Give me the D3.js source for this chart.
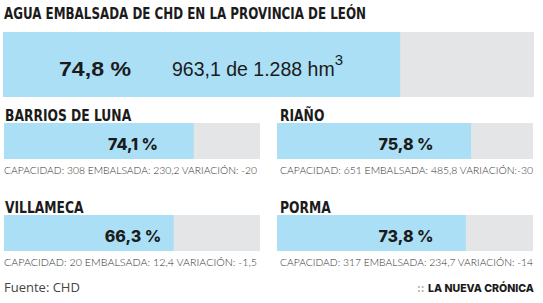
<!DOCTYPE html>
<html>
<head>
<meta charset="utf-8">
<script src="https://cdn.jsdelivr.net/npm/d3@7"></script>
<style>
  body { margin: 0; background: #fff; }
  svg { display: block; }
</style>
</head>
<body>
<svg id="chart" width="543" height="303"></svg>
<script>
// Datos (hm3)
const totalPercent = 74.8;
const totalStored = 963.1;
const totalCapacity = 1288;

const reservoirs = ['BARRIOS DE LUNA', 'RIAÑO', 'VILLAMECA', 'PORMA'];
const percents = [74.1, 75.8, 66.3, 73.8];
const capacities = [308, 651, 20, 317];
const storedValues = [230.2, 485.8, 12.4, 234.7];
const changes = [-20, -30, -1.5, -14];

const BLUE = '#abdff6';
const GREY = '#e4e5e7';
const INK = '#1b1b1b';
const condensed = "'Liberation Sans Narrow', 'DejaVu Sans Condensed', 'Liberation Sans', sans-serif";

// Spanish number format: 963,1 / 1.288
const es = d3.formatLocale({ decimal: ',', thousands: '.', grouping: [3], currency: ['', ' €'], minus: '-' });
const num = es.format(',');
const pct = d => es.format('.1f')(d) + ' %';

const svg = d3.select('#chart');

// Title
svg.append('text')
  .attr('x', 4)
  .attr('y', 19)
  .attr('textLength', 362)
  .attr('lengthAdjust', 'spacingAndGlyphs')
  .style('font-family', condensed)
  .style('font-weight', 700)
  .style('font-size', '16.5px')
  .style('fill', INK)
  .text('AGUA EMBALSADA DE CHD EN LA PROVINCIA DE LEÓN');

// Total bar
const xTotal = d3.scaleLinear().domain([0, 100]).range([3, 534]);
const gTotal = svg.append('g').attr('transform', 'translate(0, 32)');

gTotal.append('rect')
  .attr('x', xTotal(0))
  .attr('width', xTotal(100) - xTotal(0))
  .attr('height', 65)
  .style('fill', GREY);

gTotal.append('rect')
  .attr('x', xTotal(0))
  .attr('width', xTotal(totalPercent) - xTotal(0))
  .attr('height', 65)
  .style('fill', BLUE);

gTotal.append('text')
  .attr('x', 59)
  .attr('y', 44)
  .attr('textLength', 72)
  .attr('lengthAdjust', 'spacingAndGlyphs')
  .style('font-family', "'Liberation Sans', Arial, sans-serif")
  .style('font-weight', 700)
  .style('font-size', '21px')
  .style('fill', INK)
  .text(pct(totalPercent));

const totText = gTotal.append('text')
  .attr('x', 172)
  .attr('y', 44)
  .style('font-family', "'Liberation Sans', Arial, sans-serif")
  .style('font-size', '19.5px')
  .style('fill', INK);
totText.append('tspan').text(es.format('.1f')(totalStored) + ' de ' + num(totalCapacity) + ' hm');
totText.append('tspan')
  .attr('dy', -11)
  .style('font-size', '15px')
  .text('3');

// Reservoir bars (2 x 2)
const colX = [4, 277];
const rowY = [123, 215];
const barW = 256;
const barH = 36;

const x = d3.scaleLinear().domain([0, 100]).range([0, barW]);

const cells = svg.selectAll('g.reservoir')
  .data(reservoirs)
  .join('g')
  .attr('class', 'reservoir')
  .attr('transform', (d, i) => `translate(${colX[i % 2]}, ${rowY[Math.floor(i / 2)]})`);

// Condensed headings
cells.append('text')
  .attr('transform', (d, i) => `translate(${i % 2 ? 3 : 1}, -2) scale(0.83, 1)`)
  .style('font-family', condensed)
  .style('font-weight', 700)
  .style('font-size', '16.5px')
  .style('fill', INK)
  .text(d => d);

cells.append('rect')
  .attr('width', x(100))
  .attr('height', barH)
  .style('fill', GREY);

cells.append('rect')
  .attr('width', (d, i) => x(percents[i]))
  .attr('height', barH)
  .style('fill', BLUE);

cells.append('text')
  .attr('x', x(50) + 1)
  .attr('y', 27)
  .attr('text-anchor', 'middle')
  .style('font-family', "Inter, 'Noto Sans', sans-serif")
  .style('font-weight', 800)
  .style('font-size', '16px')
  .style('fill', INK)
  .text((d, i) => pct(percents[i]));

cells.append('text')
  .attr('x', (d, i) => (i % 2 ? 3 : 0))
  .attr('y', 51)
  .attr('textLength', 253)
  .attr('lengthAdjust', 'spacingAndGlyphs')
  .style('font-family', "Lato, 'Open Sans', sans-serif")
  .style('font-weight', 300)
  .style('font-size', '9px')
  .style('fill', '#333')
  .text((d, i) => `CAPACIDAD: ${num(capacities[i])} EMBALSADA: ${num(storedValues[i])} VARIACIÓN:${i === 1 ? '' : ' '}${num(changes[i])}`);

// Source and brand
svg.append('text')
  .attr('x', 4)
  .attr('y', 292)
  .style('font-family', "'Open Sans', 'Noto Sans', sans-serif")
  .style('font-size', '13px')
  .style('fill', '#444')
  .text('Fuente: CHD');

svg.append('text')
  .attr('x', 417)
  .attr('y', 292)
  .style('font-family', "Inter, 'Noto Sans', sans-serif")
  .style('font-weight', 700)
  .style('font-size', '11px')
  .style('fill', '#999')
  .text('::');

svg.append('text')
  .attr('x', 534)
  .attr('y', 292)
  .attr('text-anchor', 'end')
  .attr('textLength', 106)
  .attr('lengthAdjust', 'spacingAndGlyphs')
  .style('font-family', "Inter, 'Noto Sans', sans-serif")
  .style('font-weight', 800)
  .style('font-size', '11px')
  .style('fill', INK)
  .text('LA NUEVA CRÓNICA');
</script>
</body>
</html>
